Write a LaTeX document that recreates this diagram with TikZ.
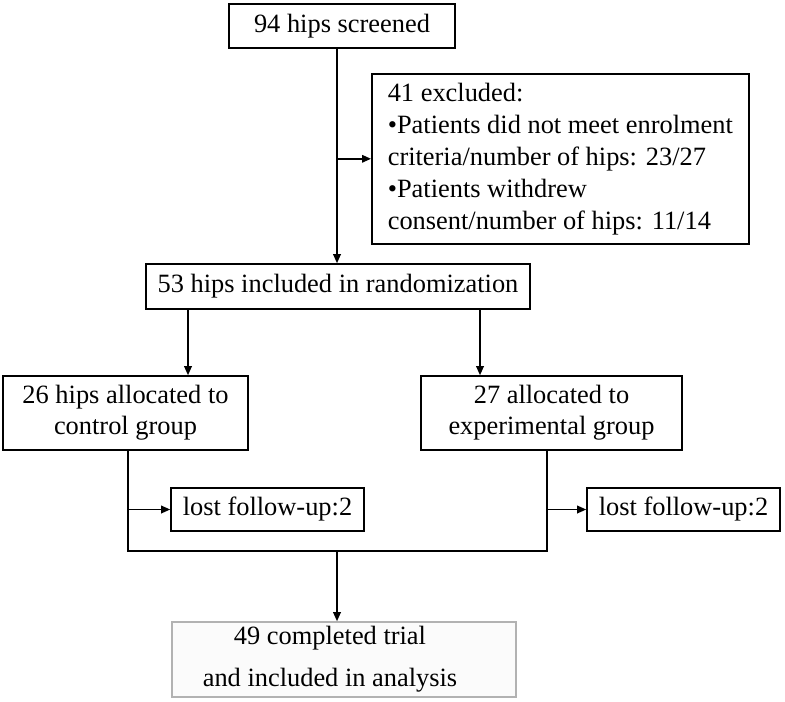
\documentclass[tikz,border=0pt]{standalone}
\usepackage{fontspec}
\setmainfont{Liberation Serif}
\usetikzlibrary{arrows.meta}
\begin{document}
\begin{tikzpicture}[x=0.5pt,y=-0.5pt,
    box/.style={draw,line width=0.8pt,inner sep=0pt,align=center,
      font=\fontsize{13.2}{15.6}\selectfont},
    arr/.style={-{Triangle[length=4.5pt,width=3.8pt]},line width=0.75pt},
    link/.style={line width=0.75pt}]
  \useasboundingbox (0,0) rectangle (785,701);
  \def\spine{337} \def\lx{128} \def\rx{547} \def\joinY{551}

  \node[box,minimum width=113pt,minimum height=22pt] (screen) at (342,26) {94 hips screened};
  \node[box,anchor=north west,align=left,minimum width=188.5pt,
    minimum height=85pt,font=\fontsize{13.2}{16}\selectfont] (excl) at (371,73)
    {41 excluded:\\ •Patients did not meet enrolment\\ criteria/number of hips: 23/27\\
     •Patients withdrew\\ consent/number of hips: 11/14};
  \node[box,minimum width=192pt,minimum height=22.5pt] (rand) at (338,286.5) {53 hips included in randomization};
  \node[box,minimum width=122.5pt,minimum height=37pt] (ctrl) at (125.5,413) {26 hips allocated to\\ control group};
  \node[box,minimum width=130.5pt,minimum height=37pt] (expt) at (551.5,413) {27 allocated to\\ experimental group};
  \node[box,minimum width=96.5pt,minimum height=21.5pt] (lostc) at (267.5,509.5) {lost follow-up:2};
  \node[box,minimum width=96.5pt,minimum height=21.5pt] (loste) at (683.5,509.5) {lost follow-up:2};
  \node[box,draw=gray!60,fill=gray!3,minimum width=172pt,minimum height=37.5pt,
    font=\fontsize{13.2}{21}\selectfont] (done) at (344,659.5)
    {49 completed trial\hspace*{14pt}\\ and included in analysis\hspace*{14pt}};

  \coordinate (top) at (\spine,0);
  \coordinate (ca) at (188,0);
  \coordinate (ea) at (480,0);
  \coordinate (cl) at (\lx,\joinY);
  \coordinate (el) at (\rx,\joinY);
  \coordinate (jn) at (\spine,\joinY);

  \draw[arr] (screen.south -| top) -- (rand.north -| top);
  \draw[arr] (excl.west -| top) -- (excl.west);
  \draw[arr] (rand.south -| ca) -- (ctrl.north -| ca);
  \draw[arr] (rand.south -| ea) -- (expt.north -| ea);
  \draw[link] (ctrl.south -| cl) -- (cl) -- (el) -- (expt.south -| el);
  \draw[arr] (lostc.west -| cl) -- (lostc.west);
  \draw[arr] (loste.west -| el) -- (loste.west);
  \draw[arr] (jn) -- (done.north -| jn);
\end{tikzpicture}
\end{document}
